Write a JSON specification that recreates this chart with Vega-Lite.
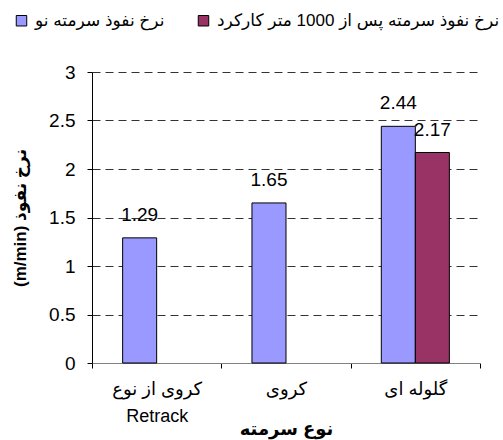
{
  "$schema": "https://vega.github.io/schema/vega-lite/v6.json",
  "width": 388,
  "height": 291,
  "autosize": {"type": "none"},
  "padding": {"left": 92, "top": 72, "right": 23, "bottom": 77},
  "background": "white",
  "config": {
    "font": "Liberation Sans, Arial, DejaVu Sans",
    "view": {"stroke": null}
  },
  "data": {
    "values": [
      {"type": "کروی از نوع|Retrack", "series": "نرخ نفوذ سرمته نو", "value": 1.29},
      {"type": "کروی", "series": "نرخ نفوذ سرمته نو", "value": 1.65},
      {"type": "گلوله ای", "series": "نرخ نفوذ سرمته نو", "value": 2.44},
      {"type": "گلوله ای", "series": "نرخ نفوذ سرمته پس از 1000 متر کارکرد", "value": 2.17}
    ]
  },
  "encoding": {
    "x": {
      "field": "type",
      "type": "nominal",
      "sort": ["کروی از نوع|Retrack", "کروی", "گلوله ای"],
      "scale": {"paddingInner": 0, "paddingOuter": 0},
      "axis": {
        "tickBand": "extent",
        "domainColor": "#808080",
        "tickColor": "#000000",
        "tickSize": 5,
        "labelAngle": 0,
        "labelFontSize": 18,
        "labelColor": "#000000",
        "labelPadding": 12,
        "labelBaseline": "top",
        "labelExpr": "split(datum.label, '|')",
        "labelLineHeight": 27,
        "title": "نوع سرمته",
        "titleFontSize": 18,
        "titleFontWeight": "bold",
        "titleColor": "#000000",
        "titleBaseline": "alphabetic",
        "titleY": 71,
        "grid": false
      }
    },
    "xOffset": {
      "field": "series",
      "type": "nominal",
      "sort": ["نرخ نفوذ سرمته نو", "نرخ نفوذ سرمته پس از 1000 متر کارکرد"],
      "scale": {"paddingInner": 0, "paddingOuter": 0.9}
    },
    "y": {
      "field": "value",
      "type": "quantitative",
      "scale": {"domain": [0, 3], "nice": false},
      "axis": {
        "values": [0, 0.5, 1, 1.5, 2, 2.5, 3],
        "format": "~g",
        "grid": true,
        "gridDash": [8, 5],
        "gridColor": "#333333",
        "gridWidth": 1,
        "domainColor": "#000000",
        "tickColor": "#000000",
        "tickSize": 5,
        "labelFontSize": 19,
        "labelColor": "#000000",
        "labelPadding": 12,
        "title": "(m/min) نرخ نفوذ",
        "titleFontSize": 17,
        "titleFontWeight": "bold",
        "titleColor": "#000000",
        "titlePadding": 19
      }
    }
  },
  "layer": [
    {
      "mark": {"type": "bar", "stroke": "#000000", "strokeWidth": 1},
      "encoding": {
        "color": {
          "field": "series",
          "type": "nominal",
          "sort": ["نرخ نفوذ سرمته نو", "نرخ نفوذ سرمته پس از 1000 متر کارکرد"],
          "scale": {
            "domain": ["نرخ نفوذ سرمته نو", "نرخ نفوذ سرمته پس از 1000 متر کارکرد"],
            "range": ["#9999FF", "#993366"]
          },
          "legend": {
            "title": null,
            "orient": "none",
            "legendX": -79,
            "legendY": -60,
            "direction": "horizontal",
            "symbolType": "square",
            "symbolSize": 110,
            "symbolStrokeColor": "#000000",
            "symbolStrokeWidth": 1,
            "symbolOpacity": 1,
            "labelFontSize": 17,
            "labelColor": "#000000",
            "labelOffset": 5,
            "labelLimit": 0,
            "columnPadding": 30
          }
        }
      }
    },
    {
      "mark": {"type": "text", "baseline": "alphabetic", "dy": -17, "fontSize": 19, "color": "#000000"},
      "encoding": {
        "text": {"field": "value", "type": "quantitative", "format": ".2f"}
      }
    }
  ]
}
